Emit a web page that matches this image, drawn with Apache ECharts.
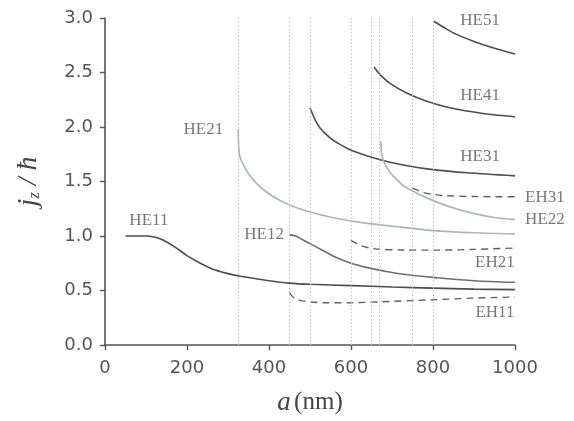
<!DOCTYPE html>
<html><head><meta charset="utf-8">
<script src="https://cdn.jsdelivr.net/npm/echarts@6/dist/echarts.min.js"></script>
<style>html,body{margin:0;padding:0;background:#fff}#c{width:574px;height:421px}</style>
</head><body><div id="c"></div>
<script>
// Data (x = a in nm, y = jz/hbar)
const HE11 = [[50,1.0],[100,1.0],[120,0.99],[140,0.965],[170,0.90],[200,0.82],[230,0.755],[260,0.70],[300,0.655],[330,0.63],[400,0.59],[450,0.568],[500,0.557],[600,0.545],[700,0.532],[800,0.522],[900,0.513],[1000,0.508]];
const HE12 = [[450,1.01],[465,1.0],[480,0.97],[500,0.93],[530,0.87],[560,0.81],[600,0.75],[640,0.71],[700,0.665],[760,0.635],[800,0.62],[900,0.59],[1000,0.575]];
const HE21 = [[325,1.98],[326,1.82],[329,1.73],[340,1.635],[354,1.55],[380,1.445],[415,1.35],[450,1.285],[500,1.22],[560,1.165],[630,1.12],[700,1.09],[800,1.05],[900,1.03],[1000,1.02]];
const HE31 = [[500,2.176],[512,2.07],[524,1.994],[549,1.90],[573,1.841],[605,1.78],[671,1.70],[737,1.645],[800,1.609],[883,1.58],[1000,1.552]];
const HE41 = [[656,2.55],[671,2.48],[695,2.40],[737,2.31],[785,2.236],[841,2.176],[922,2.124],[1000,2.094]];
const HE51 = [[802,2.97],[830,2.905],[860,2.845],[900,2.785],[950,2.722],[1000,2.67]];
const HE22 = [[673,1.87],[674,1.78],[678,1.70],[683,1.66],[692,1.60],[703,1.55],[725,1.47],[751,1.41],[785,1.35],[824,1.29],[865,1.24],[907,1.20],[950,1.17],[1000,1.15]];
const EH11 = [[450,0.48],[455,0.455],[462,0.43],[475,0.41],[500,0.395],[540,0.387],[600,0.388],[700,0.40],[800,0.415],[900,0.43],[1000,0.44]];
const EH21 = [[600,0.96],[612,0.935],[625,0.91],[645,0.89],[670,0.878],[720,0.872],[800,0.87],[900,0.877],[1000,0.89]];
const EH31 = [[750,1.44],[762,1.42],[775,1.40],[795,1.385],[830,1.37],[900,1.362],[1000,1.36]];
const cutoffs = [325,450,500,600,650,670,750,800];
const curveLabels = [["HE11",107,1.14],["HE21",240,1.98],["HE12",388,1.01],["HE51",915,2.98],["HE41",915,2.29],["HE31",915,1.73],["EH31",1073,1.35],["HE22",1073,1.15],["EH21",951,0.76],["EH11",951,0.30]];
const xTicks = [0,200,400,600,800,1000];
const yTicks = [0.0,0.5,1.0,1.5,2.0,2.5,3.0];

const DARK='#4d4d4d', MID='#6e6e6e', LIGHT='#a9b9ab', DASH='#626262';
function line(name,data,color,dashed,w){
  return {name,type:'line',data,showSymbol:false,symbol:'none',smooth:0.3,
    lineStyle:{color,width:w||1.6,type:dashed?[7,5]:'solid'},silent:true,z:3};
}
const chart = echarts.init(document.getElementById('c'),null,{renderer:'canvas'});
chart.setOption({
  backgroundColor:'#fff',
  animation:false,
  grid:{left:105,right:59,top:18,bottom:74},
  xAxis:{type:'value',min:0,max:1000,interval:200,
    name:'{a|a} {b|(nm)}',nameLocation:'middle',nameGap:44,
    nameTextStyle:{rich:{a:{fontFamily:'Liberation Serif',fontStyle:'italic',fontSize:27,color:'#444'},b:{fontFamily:'Liberation Serif',fontSize:25,color:'#444'}}},
    axisLine:{lineStyle:{color:'#555',width:1.6}},
    axisTick:{show:true,length:5,inside:false,lineStyle:{color:'#555',width:1.4}},
    axisLabel:{color:'#555',fontFamily:'DejaVu Sans',fontSize:18,margin:14,
      formatter:v=>xTicks.includes(v)?String(v):''},
    splitLine:{show:false}},
  yAxis:{type:'value',min:0,max:3,interval:0.5,
    name:'{j|j}{z|z}{s| / ħ}',nameLocation:'middle',nameGap:62,nameRotate:90,
    nameTextStyle:{rich:{j:{fontFamily:'Liberation Serif',fontStyle:'italic',fontSize:28,color:'#444'},z:{fontFamily:'Liberation Serif',fontStyle:'italic',fontSize:17,color:'#444',padding:[12,0,0,0]},s:{fontFamily:'Liberation Serif',fontStyle:'italic',fontSize:28,color:'#444'}}},
    axisLine:{show:true,lineStyle:{color:'#555',width:1.6}},
    axisTick:{show:true,length:5,inside:false,lineStyle:{color:'#555',width:1.4}},
    axisLabel:{color:'#555',fontFamily:'DejaVu Sans',fontSize:18,margin:12,
      formatter:v=>yTicks.some(t=>Math.abs(t-v)<1e-9)?v.toFixed(1):''},
    splitLine:{show:false}},
  series:[
    {type:'line',data:[],silent:true,z:1,
     markLine:{silent:true,symbol:['none','none'],label:{show:false},
       lineStyle:{type:[1.5,2],color:'#c4c4c4',width:1},
       data:cutoffs.map(v=>({xAxis:v}))}},
    line('HE11',HE11,DARK,false),
    line('HE12',HE12,MID,false),
    line('HE21',HE21,LIGHT,false,1.7),
    line('HE31',HE31,DARK,false),
    line('HE41',HE41,DARK,false),
    line('HE51',HE51,DARK,false),
    line('HE22',HE22,LIGHT,false,1.7),
    line('EH11',EH11,DASH,true,1.4),
    line('EH21',EH21,DASH,true,1.4),
    line('EH31',EH31,DASH,true,1.4),
    {type:'scatter',clip:false,silent:true,symbolSize:0,z:5,
     data:curveLabels.map(l=>({value:[l[1],l[2]],name:l[0]})),
     label:{show:true,position:'inside',formatter:p=>p.name,fontFamily:'Liberation Serif',fontSize:17,color:'#555'}}
  ]
});
</script></body></html>
